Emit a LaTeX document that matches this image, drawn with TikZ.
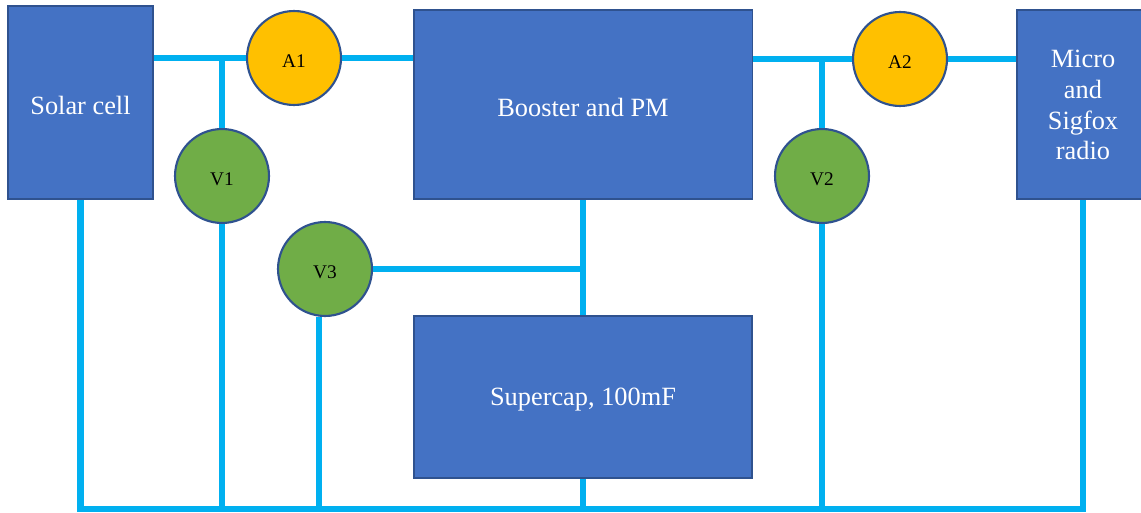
\documentclass[tikz,border=0pt]{standalone}
\usepackage{fontspec}
\setmainfont{Liberation Serif}
\definecolor{boxblue}{HTML}{4472C4}
\definecolor{edgeblue}{HTML}{2F528F}
\definecolor{wirecyan}{HTML}{00B0F0}
\definecolor{ampyellow}{HTML}{FFC000}
\definecolor{voltgreen}{HTML}{70AD47}
% lower a label a little, keeping its box where it was
\newcommand{\droptext}[1]{\raisebox{-1.7pt}[\height][\depth]{#1}}

\begin{document}
\begin{tikzpicture}[x=0.02cm, y=-0.02cm,
    block/.style={draw=edgeblue, fill=boxblue, line width=1.1pt, text=white, inner sep=2pt, font=\fontsize{15}{17.5}\selectfont},
    meter/.style={circle, draw=edgeblue, line width=1.2pt, minimum size=1.88cm, inner sep=0pt, font=\fontsize{11}{13}\selectfont},
    wire/.style={draw=wirecyan, line width=3.5pt}]
        % Page size (pixel grid of the original)
        \useasboundingbox (0,0) rectangle (1141,513);

        % Blocks
        \node[block, minimum width=2.9cm, minimum height=3.86cm] (solar) at (80.5,102.5) {\droptext{Solar cell}};
        \node[block, minimum width=6.78cm, minimum height=3.78cm] (booster) at (583,104.5) {\droptext{Booster and PM}};
        \node[block, minimum width=6.76cm, minimum height=3.24cm] (cap) at (583,397) {\droptext{Supercap, 100mF}};
        \node[block, minimum width=2.64cm, minimum height=3.78cm] (micro) at (1083,104.5)
            {\droptext{\begin{tabular}{@{}c@{}}Micro\\and\\Sigfox\\radio\end{tabular}}};

        % Ammeters (yellow) and voltmeters (green)
        \foreach \name/\x/\y/\label in {a1/294/58/A1, a2/900/59/A2} {
            \node[meter, fill=ampyellow] (\name) at (\x,\y) {\droptext{\label}};
        }
        \foreach \name/\x/\y/\label in {v1/222/176/V1, v2/822/176/V2, v3/325/269/V3} {
            \node[meter, fill=voltgreen] (\name) at (\x,\y) {\droptext{\label}};
        }

        % Ground bus along the bottom
        \coordinate (bus) at (0,509);
        \draw[wire] (solar.south) |- (micro.south |- bus) -- (micro.south);

        % Top line: solar cell -> A1 -> booster -> A2 -> micro
        \draw[wire] (solar.east |- a1) -- (a1.west);
        \draw[wire] (a1.east) -- (booster.west |- a1);
        \draw[wire] (booster.east |- a2) -- (a2.west);
        \draw[wire] (a2.east) -- (micro.west |- a2);

        % Voltmeters tapped from the top line
        \draw[wire] (v1.north) -- (v1.north |- a1);
        \draw[wire] (v2.north) -- (v2.north |- a2);

        % Booster to supercap, with V3 across it
        \draw[wire] (booster.south) -- (cap.north);
        \draw[wire] (v3.east) -- (v3.east -| booster.south);

        % Legs down to the ground bus
        \draw[wire] ([xshift=-3.4pt]v3.south) -- ([xshift=-3.4pt]v3.south |- bus);
        \foreach \name in {v1, v2, cap} {
            \draw[wire] (\name.south) -- (\name.south |- bus);
        }
\end{tikzpicture}
\end{document}
